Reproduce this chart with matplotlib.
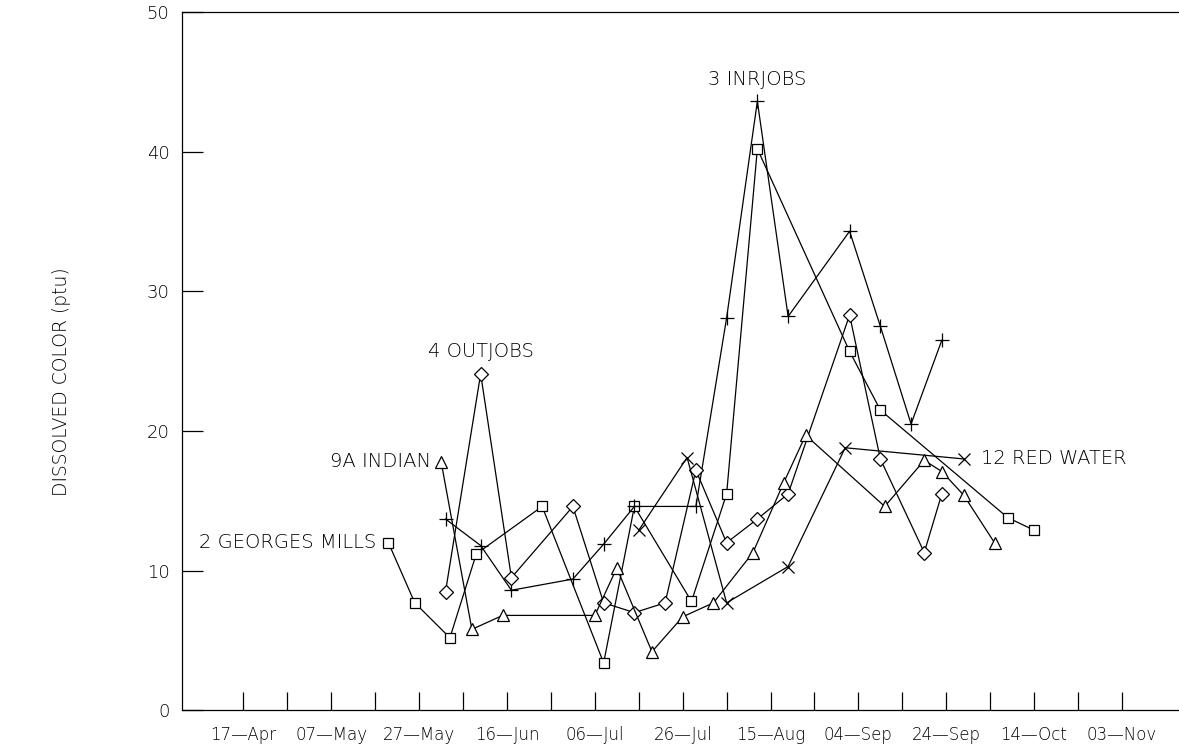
import matplotlib
matplotlib.use("Agg")
import matplotlib.pyplot as plt
import matplotlib.dates as mdates
from datetime import date, timedelta

YEAR = 1990

# Sampling dates (month, day) and dissolved colour values per station
gm_dates = [(5, 20), (5, 26), (6, 3), (6, 9), (6, 24), (7, 8), (7, 15), (7, 28),
            (8, 5), (8, 12), (9, 2), (9, 9), (10, 8), (10, 14)]
gm_vals = [12.0, 7.7, 5.2, 11.2, 14.6, 3.4, 14.6, 7.8, 15.5, 40.2, 25.7, 21.5, 13.8, 12.9]

inr_dates = [(6, 2), (6, 10), (6, 17), (7, 1), (7, 8), (7, 15), (7, 29), (8, 5),
             (8, 12), (8, 19), (9, 2), (9, 9), (9, 16), (9, 23)]
inr_vals = [13.7, 11.8, 8.6, 9.4, 11.9, 14.6, 14.6, 28.1, 43.6, 28.2, 34.3, 27.5, 20.5, 26.5]

out_dates = [(6, 2), (6, 10), (6, 17), (7, 1), (7, 8), (7, 15), (7, 22), (7, 29),
             (8, 5), (8, 12), (8, 19), (9, 2), (9, 9), (9, 19), (9, 23)]
out_vals = [8.5, 24.1, 9.5, 14.6, 7.7, 7.0, 7.7, 17.2, 12.0, 13.7, 15.5, 28.3, 18.0, 11.3, 15.5]

ind_dates = [(6, 1), (6, 8), (6, 15), (7, 6), (7, 11), (7, 19), (7, 26), (8, 2),
             (8, 11), (8, 18), (8, 23), (9, 10), (9, 19), (9, 23), (9, 28), (10, 5)]
ind_vals = [17.8, 5.8, 6.8, 6.8, 10.2, 4.2, 6.7, 7.7, 11.3, 16.3, 19.7, 14.6, 17.9, 17.1,
            15.4, 12.0]

red_dates = [(7, 16), (7, 27), (8, 5), (8, 19), (9, 1), (9, 28)]
red_vals = [12.9, 18.1, 7.7, 10.3, 18.8, 18.0]

tick_labels = ["17\u2014Apr", "07\u2014May", "27\u2014May", "16\u2014Jun", "06\u2014Jul",
               "26\u2014Jul", "15\u2014Aug", "04\u2014Sep", "24\u2014Sep", "14\u2014Oct",
               "03\u2014Nov"]
y_ticks = [0, 10, 20, 30, 40, 50]


def to_num(md):
    return [mdates.date2num(date(YEAR, m, d)) for m, d in md]


plt.rcParams["font.family"] = ["DejaVu Sans"]
plt.rcParams["font.weight"] = 200
plt.rcParams["axes.labelweight"] = 200

fig = plt.figure(figsize=(11.79, 7.48), dpi=100)
ax = fig.add_axes([182 / 1179, 1 - 710.4 / 748, 1 - 182 / 1179, (710.4 - 11.9) / 748])

line_kw = dict(color="black", linewidth=0.9, markerfacecolor="white",
               markeredgecolor="black", markeredgewidth=0.9)

ax.plot(to_num(gm_dates), gm_vals, marker="s", markersize=7.5, **line_kw)
ax.plot(to_num(inr_dates), inr_vals, marker="+", markersize=10, **line_kw)
ax.plot(to_num(out_dates), out_vals, marker="D", markersize=6.8, **line_kw)
ax.plot(to_num(ind_dates), ind_vals, marker="^", markersize=8, **line_kw)
ax.plot(to_num(red_dates), red_vals, marker="x", markersize=9, **line_kw)

start = date(YEAR, 4, 17)
x0 = mdates.date2num(start - timedelta(days=14.8))
x1 = mdates.date2num(start + timedelta(days=213.9))
ax.set_xlim(x0, x1)
ax.set_ylim(0, 50)

minor = [mdates.date2num(start + timedelta(days=10 * k)) for k in range(21)]
major = [mdates.date2num(start + timedelta(days=20 * k)) for k in range(11)]
ax.set_xticks(minor, minor=True)
ax.set_xticks(major)
ax.set_xticklabels(tick_labels, fontsize=12)
ax.tick_params(axis="x", which="both", direction="in", length=13, width=0.9, pad=11)
ax.tick_params(axis="x", which="minor", labelbottom=False)

ax.set_yticks(y_ticks)
ax.set_yticklabels([str(v) for v in y_ticks], fontsize=13)
ax.tick_params(axis="y", direction="in", length=15, width=0.9, pad=9)

for s in ["left", "bottom", "top"]:
    ax.spines[s].set_linewidth(0.9)
ax.spines["right"].set_visible(False)

ax.set_ylabel("DISSOLVED COLOR (ptu)", fontsize=13.5, fontweight=200)
ax.yaxis.set_label_coords((71 - 182) / 997, (710.4 - 382) / 698.5)

# Station labels
lab_kw = dict(fontsize=14, color="black", va="center")
ax.annotate("2 GEORGES MILLS", xy=(to_num(gm_dates[:1])[0], gm_vals[0]),
            xytext=(-12, 0), textcoords="offset pixels", ha="right", **lab_kw)
ax.annotate("9A INDIAN", xy=(to_num(ind_dates[:1])[0], ind_vals[0]),
            xytext=(-10, 0), textcoords="offset pixels", ha="right", **lab_kw)
ax.annotate("4 OUTJOBS", xy=(to_num(out_dates[1:2])[0], out_vals[1]),
            xytext=(0, 22), textcoords="offset pixels", ha="center", **lab_kw)
ax.annotate("3 INRJOBS", xy=(to_num(inr_dates[8:9])[0], inr_vals[8]),
            xytext=(0, 22), textcoords="offset pixels", ha="center", **lab_kw)
ax.annotate("12 RED WATER", xy=(to_num(red_dates[-1:])[0], red_vals[-1]),
            xytext=(17, 0), textcoords="offset pixels", ha="left", **lab_kw)

fig.savefig("out.png", dpi=100)
